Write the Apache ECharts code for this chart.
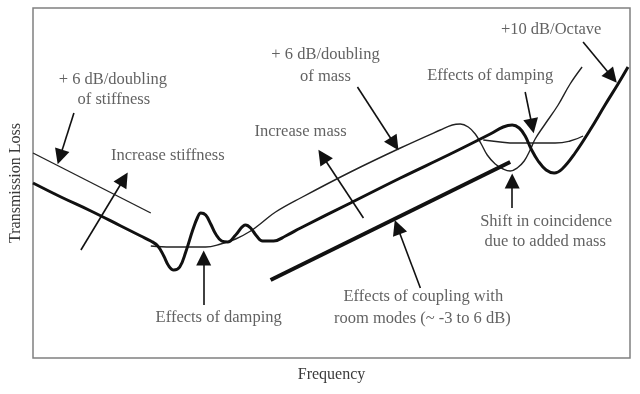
<!DOCTYPE html>
<html>
<head>
<meta charset="utf-8">
<script src="https://cdn.jsdelivr.net/npm/echarts@6/dist/echarts.min.js"></script>
<style>
html,body{margin:0;padding:0;background:#fff;}
#chart{width:640px;height:394px;}
</style>
</head>
<body>
<div id="chart"></div>
<script>
// Schematic transmission-loss curves (frequency vs TL, arbitrary units)
var baseCurve = [
  [0,175],[28,161],[58,147],[88,132],[108,122],[118,117],[125,112],[131,102],[136,92],
  [141,88],[147,91],[153,106],[160,128],[165,141],[168,145],[173,143],[178,134],[183,124],
  [189,117],[195,116],[203,123],[213,133],[218,130],[224,122],[230,117],[241,117],[253,122],
  [268,130],[318,155],[368,180],[418,204],[458,224],[471,231],[480,233],[487,230],[493,222],
  [499,209],[506,197],[514,188],[522,185],[530,189],[543,205],[558,228],[573,253],[586,274],[596,291]
];
var massCurve = [
  [118,112],[138,111],[158,111],[173,111],[188,114],[203,119],[218,127],[230,136],[243,146],
  [268,160],[318,186],[368,210],[408,228],[420,233],[428,234],[436,231],[443,224],[449,214],
  [455,203],[463,194],[471,189],[478,187],[485,190],[492,197],[498,208],[503,219],[513,234],
  [526,253],[538,274],[550,291]
];
var stiffnessLine = [[0,205],[118,145]];
var dampingCurve = [[451,218],[468,216],[483,215],[498,215],[523,215],[538,217],[551,222]];
var couplingLine = [[238,78],[478,196]];
var arrows = [
  [[41,245],[27,201]],
  [[48,108],[91,179]],
  [[325,271],[362,214]],
  [[331,140],[290,202]],
  [[493,266],[500,232]],
  [[551,316],[580,281]],
  [[480,150],[480,177]],
  [[388,70],[365,131]],
  [[171,53],[171,100]]
];
var labelTexts = [
  '+ 6 dB/doubling','of stiffness','Increase stiffness','+ 6 dB/doubling','of mass',
  'Increase mass','Effects of damping','+10 dB/Octave','Shift in coincidence',
  'due to added mass','Effects of coupling with','room modes (~ -3 to 6 dB)','Effects of damping'
];
var labelX = [80,81,135,293,293,268,458,519,514,513,391,390,186];
var labelY = [278,258,202,303,281,226,282,328,136,116,61,39,40];
var xTitle = 'Frequency';
var yTitle = 'Transmission Loss';

var FONT = '"Liberation Serif","DejaVu Serif",serif';
var TXT = '#3a3a3a';
var chart = echarts.init(document.getElementById('chart'));
chart.setOption({
  animation:false,
  backgroundColor:'#fff',
  grid:{left:32,top:8,width:598,height:350,show:true,borderColor:'#808080',borderWidth:1.5,backgroundColor:'transparent'},
  xAxis:{type:'value',min:0,max:598,name:xTitle,nameLocation:'middle',nameGap:9,
    nameTextStyle:{fontFamily:FONT,fontSize:16,color:TXT},
    axisLine:{show:false},axisTick:{show:false},axisLabel:{show:false},splitLine:{show:false}},
  yAxis:{type:'value',min:0,max:350,name:yTitle,nameLocation:'middle',nameGap:9,
    nameTextStyle:{fontFamily:FONT,fontSize:16,color:TXT},
    axisLine:{show:false},axisTick:{show:false},axisLabel:{show:false},splitLine:{show:false}},
  series:[
    {type:'line',data:stiffnessLine,symbol:'none',lineStyle:{color:'#222',width:1.4}},
    {type:'line',data:dampingCurve,smooth:true,symbol:'none',lineStyle:{color:'#222',width:1.4}},
    {type:'line',data:massCurve,smooth:0.4,symbol:'none',lineStyle:{color:'#222',width:1.4}},
    {type:'line',data:baseCurve,smooth:0.4,symbol:'none',lineStyle:{color:'#111',width:3}},
    {type:'line',data:couplingLine,symbol:'none',lineStyle:{color:'#111',width:4}},
    {type:'lines',coordinateSystem:'cartesian2d',symbol:['none','triangle'],symbolSize:[0,15],
      lineStyle:{color:'#111',width:1.6,opacity:1},
      data:arrows.map(function(a){return {coords:a};})},
    {type:'scatter',symbolSize:0,z:10,
      data:labelTexts.map(function(t,i){return {value:[labelX[i],labelY[i]],name:t};}),
      label:{show:true,position:'inside',formatter:function(p){return p.name;},
        fontFamily:FONT,fontSize:16.5,color:TXT}}
  ]
});
</script>
</body>
</html>
